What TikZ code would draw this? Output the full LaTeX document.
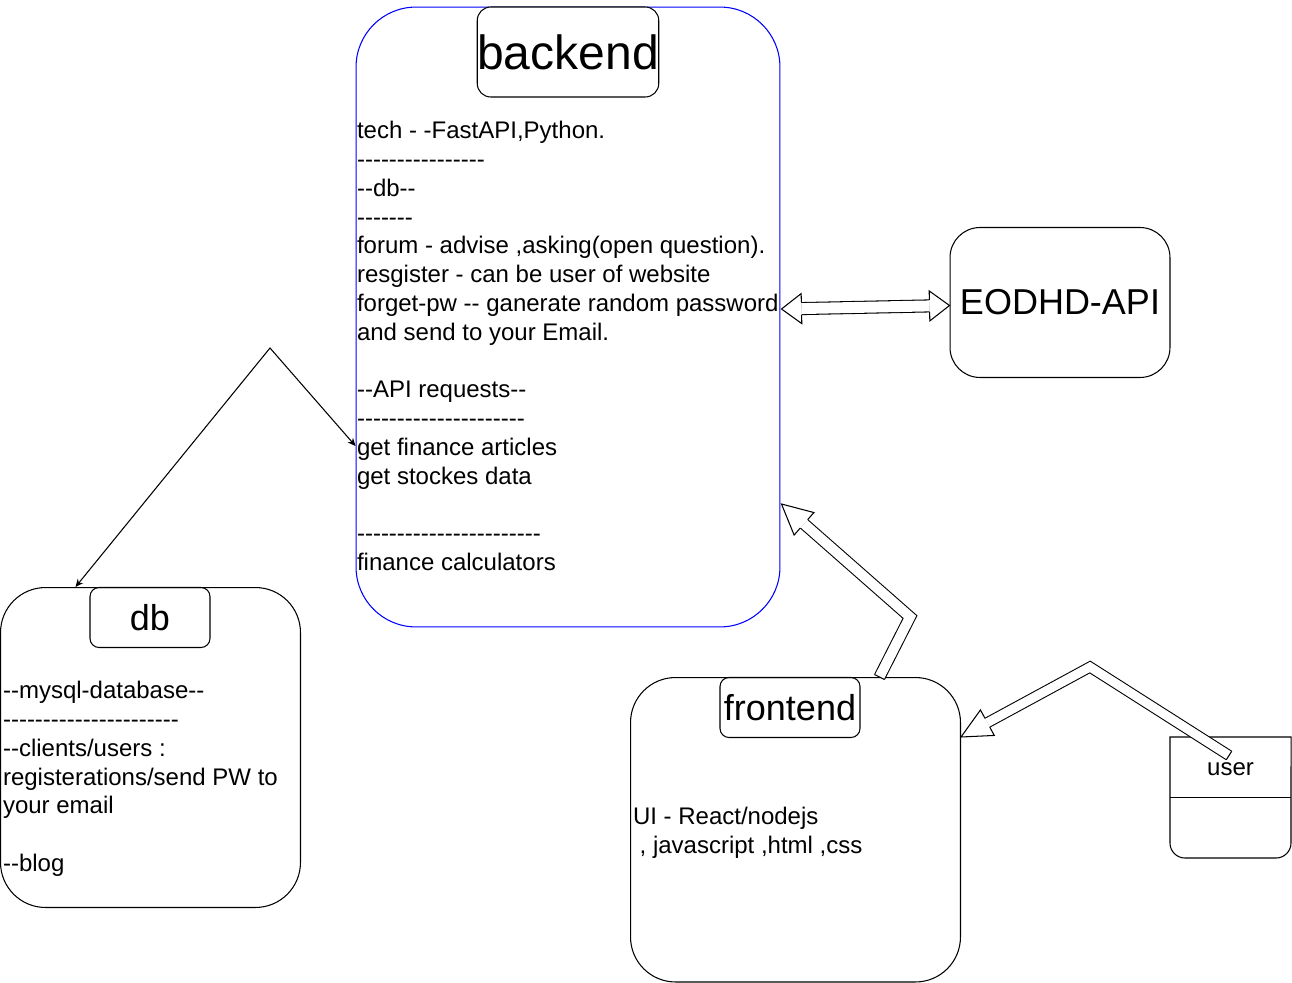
\documentclass[tikz,border=0pt]{standalone}
\usepackage{fontspec}
\setmainfont{Liberation Sans}[Ligatures=TeXOff]
\usetikzlibrary{arrows.meta, calc}

% open head of a flat arrow: tip, base centre, half shaft, half head
\newcommand{\flexhead}[4]{%
    \fill [white] ($(#2)!#4!90:(#1)$) -- (#1) -- ($(#2)!#4!-90:(#1)$) -- cycle;
    \draw [line join=miter] ($(#2)!#3!90:(#1)$) -- ($(#2)!#4!90:(#1)$) -- (#1)
        -- ($(#2)!#4!-90:(#1)$) -- ($(#2)!#3!-90:(#1)$);
}

\begin{document}
\begin{tikzpicture}[x=0.02cm, y=-0.02cm, line width=0.6pt,
    box/.style={draw, rounded corners=#1, inner sep=0},
    txt/.style={align=left, inner sep=0, anchor=north west, font=\fontsize{13.66}{16.39}\selectfont},
    big/.style={font=\fontsize{20.49}{24}\selectfont},
    flexshaft/.style={double=white, double distance=#1, line join=miter}]
    \useasboundingbox (0,0) rectangle (1292,983);

    % backend
    \node [box=1.2cm, draw=blue, minimum width=8.48cm, minimum height=12.4cm] (backend) at (568,317) {};
    \node [box=0.27cm, fill=white, minimum width=3.6cm, minimum height=1.8cm, font=\fontsize{27.32}{32}\selectfont] (backtitle) at (568,52) {backend};
    \node [txt] (backtxt) at (356.5,120.8) {tech - -FastAPI,Python.\\
        ----------------\\
        --db--\\
        -------\\
        forum - advise ,asking(open question).\\
        resgister - can be user of website\\
        forget-pw -- ganerate random password\\
        and send to your Email.\\
        \mbox{}\\
        --API requests--\\
        ---------------------\\
        get finance articles\\
        get stockes data\\
        \mbox{}\\
        -----------------------\\
        finance calculators};

    % api
    \node [box=0.6cm, big, minimum width=4.4cm, minimum height=3cm] (eodhd) at (1060,302.5) {EODHD-API};

    % db
    \node [box=0.9cm, minimum width=6cm, minimum height=6.4cm] (db) at (150.5,747.5) {};
    \node [box=0.18cm, big, minimum width=2.4cm, minimum height=1.2cm] (dbtitle) at (150,617.5) {db};
    \node [txt] (dbtxt) at (2.5,680.8) {--mysql-database--\\
        ----------------------\\
        --clients/users :\\
        registerations/send PW to\\
        your email\\
        \mbox{}\\
        --blog};

    % frontend
    \node [box=0.9cm, minimum width=6.6cm, minimum height=6.09cm] (frontend) at (795.5,829.75) {};
    \node [box=0.18cm, big, minimum width=2.8cm, minimum height=1.2cm] (fronttitle) at (790,707.5) {frontend};
    \node [txt] (fronttxt) at (632.5,806.8) {UI - React/nodejs\\
        ~, javascript ,html ,css};

    % user
    \node [minimum width=2.4cm, minimum height=2.4cm, inner sep=0] (user) at (1230.5,797.5) {};
    \draw (user.north west) -- ($(user.south west)+(0,-15)$) arc [start angle=180, end angle=270, radius=0.3cm]
        -- ($(user.south east)+(-15,0)$) arc [start angle=270, end angle=360, radius=0.3cm]
        -- (user.north east) -- cycle;
    \draw (user.west) -- (user.east);

    % db <-> backend
    \coordinate (apex) at (270,348);
    \draw [{Stealth[length=4.5pt, width=4pt]}-{Stealth[length=4.5pt, width=4pt]}]
        ($(db.north west)+(75.5,0)$) -- (apex) -- ($(backend.west)+(0,129)$);

    % backend <-> api
    \coordinate (api-l) at ($(backend.east)+(1,-8)$);
    \coordinate (api-r) at ($(eodhd.west)+(0,3)$);
    \coordinate (api-lb) at ($(api-l)!0.4cm!(api-r)$);
    \coordinate (api-rb) at ($(api-r)!0.4cm!(api-l)$);
    \draw [flexshaft=6.23pt] (api-lb) -- (api-rb);
    \flexhead{api-l}{api-lb}{0.12cm}{0.3cm}
    \flexhead{api-r}{api-rb}{0.12cm}{0.3cm}

    % frontend -> backend
    \coordinate (fe-out) at ($(frontend.north)+(84,0)$);
    \coordinate (fe-bend) at (910,617);
    \coordinate (fe-tip) at ($(backend.east)+(1,187)$);
    \coordinate (fe-base) at ($(fe-tip)!0.6cm!(fe-bend)$);
    \draw [flexshaft=5.66pt] (fe-out) -- (fe-bend) -- (fe-base);
    \draw ($(fe-out)!0.11cm!90:(fe-bend)$) -- ($(fe-out)!0.11cm!-90:(fe-bend)$);
    \flexhead{fe-tip}{fe-base}{0.11cm}{0.3cm}

    % user -> frontend
    \coordinate (us-out) at ($(user.north)+(-1.5,18.5)$);
    \coordinate (us-bend) at (1090,667);
    \coordinate (us-tip) at ($(frontend.north east)+(0,60)$);
    \coordinate (us-base) at ($(us-tip)!0.6cm!(us-bend)$);
    \draw [flexshaft=5.09pt] (us-out) -- (us-bend) -- (us-base);
    \draw ($(us-out)!0.1cm!90:(us-bend)$) -- ($(us-out)!0.1cm!-90:(us-bend)$);
    \flexhead{us-tip}{us-base}{0.1cm}{0.29cm}

    \node [font=\fontsize{13.66}{16.39}\selectfont, inner sep=0] (userlbl) at ($(user.north)!0.5!(user.center)+(0,1.5)$) {user};
\end{tikzpicture}
\end{document}
